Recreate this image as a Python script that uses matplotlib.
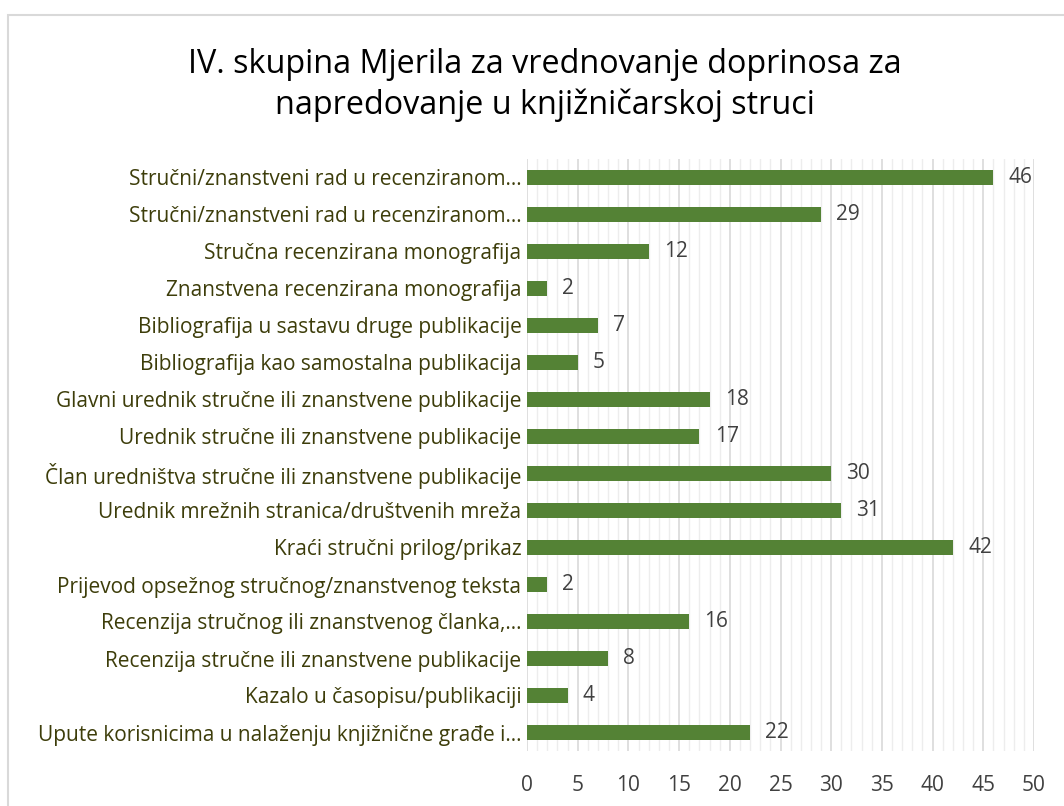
import numpy as np
import matplotlib.pyplot as plt
from matplotlib.patches import Rectangle

title = 'IV. skupina Mjerila za vrednovanje doprinosa za\nnapredovanje u knjižničarskoj struci'

categories = [
    'Stručni/znanstveni rad u recenziranom…',
    'Stručni/znanstveni rad u recenziranom…',
    'Stručna recenzirana monografija',
    'Znanstvena recenzirana monografija',
    'Bibliografija u sastavu druge publikacije',
    'Bibliografija kao samostalna publikacija',
    'Glavni urednik stručne ili znanstvene publikacije',
    'Urednik stručne ili znanstvene publikacije',
    'Član uredništva stručne ili znanstvene publikacije',
    'Urednik mrežnih stranica/društvenih mreža',
    'Kraći stručni prilog/prikaz',
    'Prijevod opsežnog stručnog/znanstvenog teksta',
    'Recenzija stručnog ili znanstvenog članka,…',
    'Recenzija stručne ili znanstvene publikacije',
    'Kazalo u časopisu/publikaciji',
    'Upute korisnicima u nalaženju knjižnične građe i…',
]
values = [46, 29, 12, 2, 7, 5, 18, 17, 30, 31, 42, 2, 16, 8, 4, 22]
xticks = [0, 5, 10, 15, 20, 25, 30, 35, 40, 45, 50]

plt.rcParams['font.family'] = ['Open Sans', 'DejaVu Sans']

fig = plt.figure(figsize=(10.64, 8.06), dpi=100)
# light frame around the chart area
fig.patches.append(Rectangle((8 / 1064, -0.1), 1.2, (806 - 14.5) / 806 + 0.1,
                             transform=fig.transFigure, fill=False,
                             edgecolor='#D9D9D9', linewidth=1.5))

ax = fig.add_axes([527 / 1064, 1 - 751 / 806, (1034 - 527) / 1064, (751 - 159) / 806])

y = np.arange(len(values))
ax.barh(y, values, height=0.38, color='#548235', zorder=3)
for yi, v in zip(y, values):
    ax.text(v + 1.5, yi, str(v), va='center', ha='left', fontsize=15,
            color='#404040', zorder=4)

ax.set_xlim(0, 50)
ax.set_ylim(len(values) - 0.5, -0.5)
ax.set_yticks(y)
ax.set_yticklabels(categories, fontsize=15, color='#3D3D0A')
ax.set_xticks(xticks)
ax.set_xticklabels([str(t) for t in xticks], fontsize=15, color='#404040')
ax.set_xticks(np.arange(0, 51, 1), minor=True)
ax.tick_params(axis='both', which='both', length=0)
ax.tick_params(axis='y', pad=4)
ax.tick_params(axis='x', pad=17)
ax.grid(axis='x', which='minor', color='#EDEDED', linewidth=1, zorder=0)
ax.grid(axis='x', which='major', color='#D9D9D9', linewidth=1.2, zorder=1)
for s in ax.spines.values():
    s.set_visible(False)

fig.text(0.512, 1 - 85 / 806, title, ha='center', va='center', fontsize=23.3,
         color='#000000', linespacing=1.3)

fig.savefig('out.png', dpi=100)
